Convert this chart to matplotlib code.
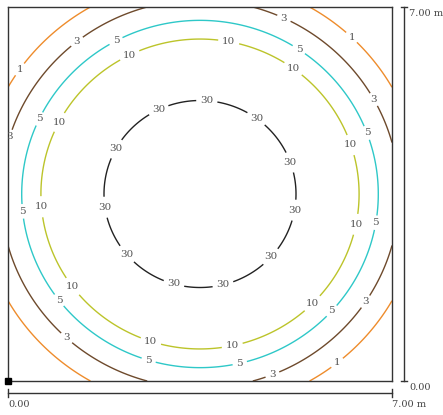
import numpy as np
import matplotlib
matplotlib.use("Agg")
import matplotlib.pyplot as plt
from matplotlib.lines import Line2D

plt.rcParams["font.family"] = ["DejaVu Serif"]

# room size (m) and contour levels with the radius (m) where each one sits
room_w = 7.0
room_h = 7.0
levels = [30, 10, 5, 3, 1]
radii = [1.75, 2.90, 3.25, 3.63, 4.03]
line_colors = ["#222222", "#bcc42a", "#2ec8c8", "#6e4a2c", "#ee8c2c"]

# label spots (pixels in the 443x415 image)
label_px = [
    (206.7, 102.7), (159, 110.7), (255.7, 119.3), (116.7, 149.3), (289.3, 162.7),
    (105, 207.3), (293.3, 210), (127.7, 253.3), (270, 256), (174, 283.3), (222.7, 283.3),
    (130, 56), (229, 40), (292.7, 69.3), (60, 122.7), (350.7, 145), (42.3, 206.7),
    (355.7, 224.3), (72.3, 286.7), (312.3, 303.3), (150.7, 341.7), (232.3, 345.7),
    (114.3, 37.7), (300.7, 46.7), (36, 117.3), (370, 131.7), (19, 211.7), (379.3, 223.3),
    (56, 302.7), (334.3, 313.3), (147.7, 363.5), (240.7, 367.3),
    (78.3, 43.3), (11.7, 137.3), (282.7, 21), (371.7, 100.7), (68.3, 336),
    (363.3, 300), (271.7, 372.7),
    (20.7, 70), (350.7, 38.3), (336.5, 362),
]

W, H = 443, 415
x0, x1, y0, y1 = 8, 392, 7, 381

fig = plt.figure(figsize=(W / 100, H / 100), dpi=100)
ax = fig.add_axes([x0 / W, (H - y1) / H, (x1 - x0) / W, (y1 - y0) / H])

xs = np.linspace(0, room_w, 500)
ys = np.linspace(0, room_h, 500)
X, Y = np.meshgrid(xs, ys)
R = np.hypot(X - room_w / 2, Y - room_h / 2)

cs = ax.contour(X, Y, R, levels=radii, colors=line_colors, linewidths=1.0)
fmt = {r: str(v) for r, v in zip(radii, levels)}
ax.set_xlim(0, room_w)
ax.set_ylim(0, room_h)

manual = [((px - x0) / (x1 - x0) * room_w, (y1 - py) / (y1 - y0) * room_h) for px, py in label_px]
labels = ax.clabel(cs, fmt=fmt, manual=manual, inline=True, inline_spacing=4,
                   fontsize=7.5, colors="#555555")
for t in labels:
    t.set_rotation(0)

ax.set_xticks([])
ax.set_yticks([])
for s in ax.spines.values():
    s.set_color("#333333")
    s.set_linewidth(1.0)

ax.plot(0, 0, "s", ms=5, color="black", clip_on=False, zorder=5)

# dimension lines
dim = "#333333"
dy = 393
fig.add_artist(Line2D([x0 / W, x1 / W], [(H - dy) / H] * 2, color=dim, lw=1.0))
for xx in (x0, x1):
    fig.add_artist(Line2D([xx / W] * 2, [(H - dy - 4) / H, (H - dy + 4) / H], color=dim, lw=1.0))
dx = 404
fig.add_artist(Line2D([dx / W] * 2, [(H - y0) / H, (H - y1) / H], color=dim, lw=1.0))
for yy in (y0, y1):
    fig.add_artist(Line2D([(dx - 3) / W, (dx + 3) / W], [(H - yy) / H] * 2, color=dim, lw=1.0))

tkw = dict(fontsize=7, color="#444444", va="center", ha="left")
fig.text(x0 / W, (H - 404) / H, "0.00", **tkw)
fig.text(392 / W, (H - 404) / H, "7.00 m", **tkw)
fig.text(409 / W, (H - 387) / H, "0.00", **tkw)
fig.text(409 / W, (H - 13) / H, "7.00 m", **tkw)

fig.savefig("out.png", dpi=100)
